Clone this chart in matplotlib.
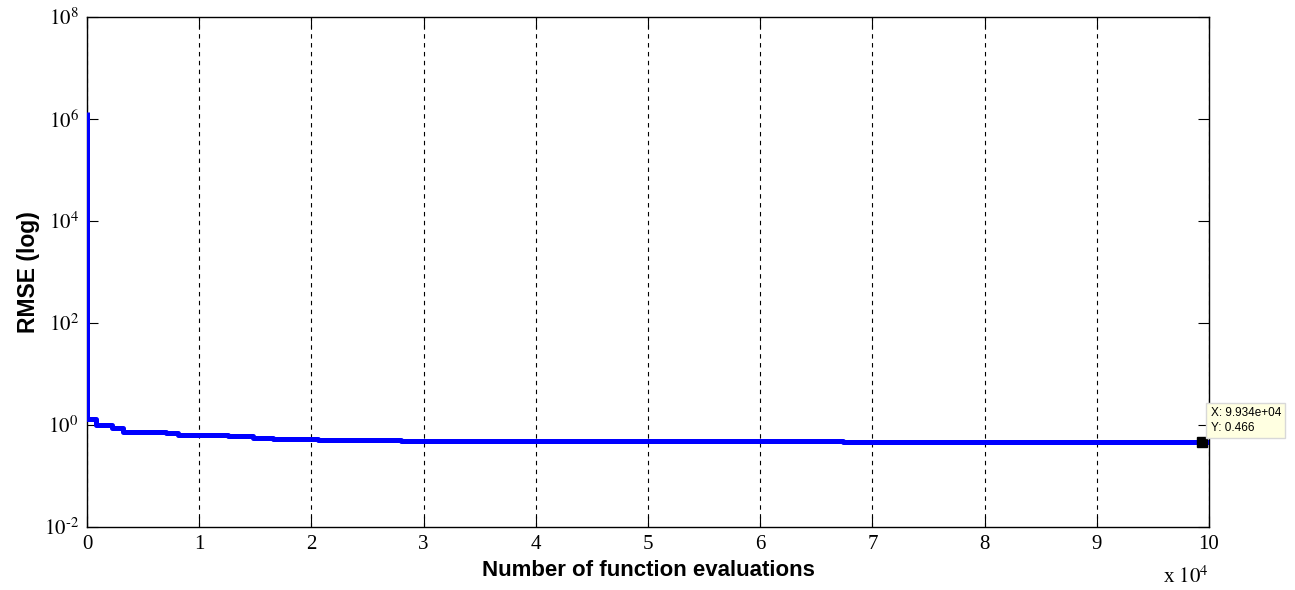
import numpy as np
import matplotlib.pyplot as plt
from matplotlib.ticker import FixedLocator, FuncFormatter, NullLocator

# best RMSE found so far vs. number of function evaluations
evals = [0, 1, 800, 2200, 3200, 7000, 8100, 12600, 14800, 16600, 20600, 28000, 67400, 100000]
rmse = [1.39e6, 1.30, 0.99, 0.87, 0.72, 0.69, 0.63, 0.60, 0.56, 0.53, 0.51, 0.49, 0.466, 0.466]

tip_x = 99340
tip_y = 0.466

xticks = np.arange(0, 11) * 1e4
yticks = [1e-2, 1e0, 1e2, 1e4, 1e6, 1e8]

plt.rcParams['mathtext.fontset'] = 'stix'
serif = 'Liberation Serif'
sans = 'Liberation Sans'


def log_label(v, pos):
    # plain hyphen in the exponent, like the old MATLAB labels
    return r'$10^{\text{%d}}$' % round(np.log10(v))


fig = plt.figure(figsize=(12.95, 5.9), dpi=100)
ax = fig.add_axes([87/1295, 63/590, 1122/1295, 510/590])

ax.plot(evals, rmse, color='#0000ff', lw=3.6, drawstyle='steps-post', solid_capstyle='butt', zorder=3)
ax.set_yscale('log')
ax.set_xlim(0, 1e5)
ax.set_ylim(1e-2, 1e8)

ax.xaxis.set_major_locator(FixedLocator(xticks))
ax.xaxis.set_major_formatter(FuncFormatter(lambda v, p: '%d' % round(v / 1e4)))
ax.yaxis.set_major_locator(FixedLocator(yticks))
ax.yaxis.set_major_formatter(FuncFormatter(log_label))
ax.yaxis.set_minor_locator(NullLocator())
ax.xaxis.set_minor_locator(NullLocator())

ax.tick_params(direction='in', length=8, width=0.8, top=True, right=True, labelsize=15)
ax.tick_params(axis='x', pad=6)
ax.tick_params(axis='y', pad=6)
for lab in ax.get_xticklabels() + ax.get_yticklabels():
    lab.set_family(serif)
for sp in ax.spines.values():
    sp.set_linewidth(1.0)

ax.grid(axis='x', color='black', linestyle=(0, (4, 4)), lw=0.8)
ax.set_axisbelow(True)

ax.set_xlabel('Number of function evaluations', fontsize=16, fontweight='bold', family=sans, labelpad=4)
ax.set_ylabel('RMSE (log)', fontsize=16.5, fontweight='bold', family=sans, labelpad=3)

ax.text(1.0, -0.078, r'x $10^{4}$', transform=ax.transAxes, ha='right', va='top',
        fontsize=15, family=serif)

# data tip on the last point
ax.plot([tip_x], [tip_y], 's', color='black', ms=7, zorder=5, clip_on=False)
ax.annotate('X: 9.934e+04\nY: 0.466', xy=(tip_x, tip_y), xytext=(9, 8),
            textcoords='offset pixels', ha='left', va='bottom', fontsize=8.5, family=sans,
            linespacing=1.3, annotation_clip=False, zorder=10,
            bbox=dict(boxstyle='square,pad=0.35', fc='#ffffe1', ec='#d8d8d8', lw=1))

fig.savefig('out.png', dpi=100)
